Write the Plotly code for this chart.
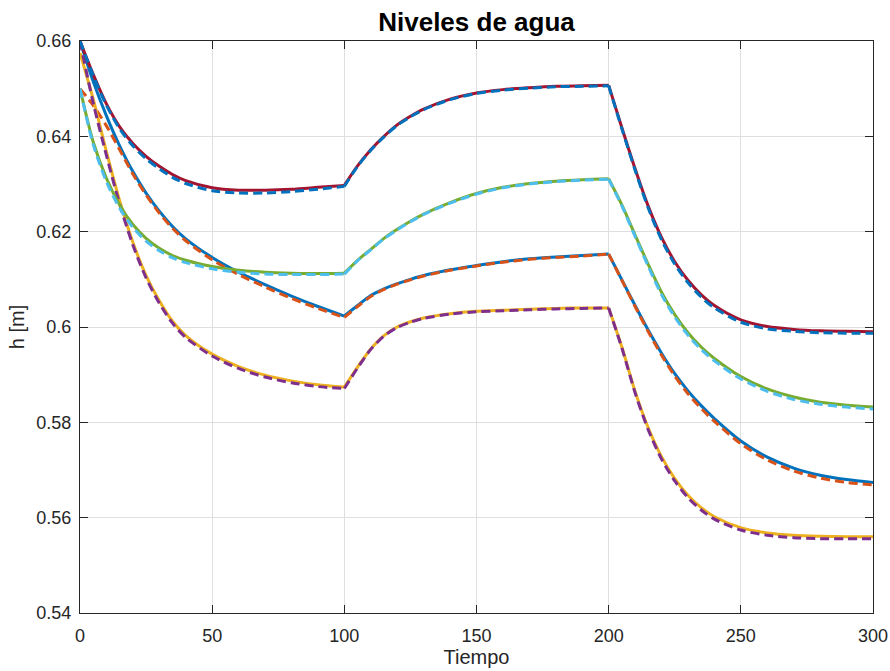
import plotly.graph_objects as go

# Time samples
tiempo = [0, 5, 10, 15, 20, 25, 30, 35, 40, 50, 60, 70, 80, 90, 100,
          105, 110, 115, 120, 125, 130, 140, 150, 160, 170, 180, 190, 200,
          205, 210, 215, 220, 225, 230, 235, 240, 250, 260, 270, 280, 290, 300]

# Pair C : blue solid / orange dashed
h_c_sol = [0.6600, 0.6515, 0.6443, 0.6380, 0.6326, 0.6281, 0.6243, 0.6211, 0.6185, 0.6146, 0.6115, 0.6089, 0.6065, 0.6043, 0.6023,
           0.6045, 0.6066, 0.6080, 0.6091, 0.6100, 0.6108, 0.6120, 0.6129, 0.6137, 0.6143, 0.6147, 0.6150, 0.6153,
           0.6099, 0.6045, 0.5993, 0.5945, 0.5902, 0.5866, 0.5835, 0.5808, 0.5761, 0.5727, 0.5704, 0.5689, 0.5680, 0.5674]
h_c_dash = [0.6500, 0.6465, 0.6422, 0.6372, 0.6321, 0.6277, 0.6239, 0.6207, 0.6181, 0.6141, 0.6110, 0.6084, 0.6060, 0.6039, 0.6020,
            0.6043, 0.6064, 0.6079, 0.6090, 0.6099, 0.6107, 0.6119, 0.6128, 0.6136, 0.6142, 0.6146, 0.6149, 0.6153,
            0.6098, 0.6043, 0.5990, 0.5941, 0.5897, 0.5860, 0.5829, 0.5802, 0.5755, 0.5721, 0.5698, 0.5683, 0.5674, 0.5669]

# Pair D : yellow solid / purple dashed
h_d_sol = [0.6575, 0.6478, 0.6368, 0.6265, 0.6178, 0.6108, 0.6055, 0.6012, 0.5982, 0.5943, 0.5917, 0.5899, 0.5887, 0.5879, 0.5874,
           0.5916, 0.5954, 0.5982, 0.6000, 0.6011, 0.6019, 0.6028, 0.6033, 0.6035, 0.6037, 0.6039, 0.6040, 0.6040,
           0.5958, 0.5865, 0.5788, 0.5728, 0.5682, 0.5647, 0.5621, 0.5602, 0.5579, 0.5568, 0.5563, 0.5561, 0.5560, 0.5560]
h_d_dash = [0.6600, 0.6470, 0.6360, 0.6258, 0.6172, 0.6103, 0.6050, 0.6008, 0.5978, 0.5939, 0.5913, 0.5895, 0.5883, 0.5875, 0.5871,
            0.5914, 0.5953, 0.5981, 0.5999, 0.6010, 0.6018, 0.6027, 0.6032, 0.6034, 0.6036, 0.6038, 0.6039, 0.6040,
            0.5956, 0.5862, 0.5784, 0.5723, 0.5677, 0.5642, 0.5616, 0.5597, 0.5574, 0.5563, 0.5558, 0.5556, 0.5556, 0.5556]

# Pair B : green solid / cyan dashed
h_b_sol = [0.6500, 0.6388, 0.6312, 0.6256, 0.6215, 0.6186, 0.6165, 0.6150, 0.6140, 0.6127, 0.6119, 0.6115, 0.6113, 0.6112, 0.6113,
           0.6140, 0.6163, 0.6186, 0.6205, 0.6222, 0.6237, 0.6261, 0.6280, 0.6293, 0.6301, 0.6306, 0.6309, 0.6311,
           0.6256, 0.6193, 0.6131, 0.6073, 0.6026, 0.5988, 0.5958, 0.5934, 0.5896, 0.5870, 0.5853, 0.5842, 0.5836, 0.5832]
h_b_dash = [0.6500, 0.6383, 0.6305, 0.6249, 0.6209, 0.6180, 0.6160, 0.6145, 0.6135, 0.6122, 0.6115, 0.6111, 0.6110, 0.6110, 0.6111,
            0.6139, 0.6162, 0.6185, 0.6204, 0.6221, 0.6236, 0.6260, 0.6279, 0.6292, 0.6300, 0.6305, 0.6308, 0.6310,
            0.6254, 0.6190, 0.6127, 0.6068, 0.6021, 0.5983, 0.5953, 0.5929, 0.5891, 0.5865, 0.5848, 0.5838, 0.5832, 0.5828]

# Pair A : red solid / blue dashed
h_a_sol = [0.6600, 0.6530, 0.6468, 0.6420, 0.6385, 0.6358, 0.6337, 0.6320, 0.6307, 0.6292, 0.6287, 0.6287, 0.6289, 0.6293, 0.6297,
           0.6338, 0.6372, 0.6400, 0.6424, 0.6442, 0.6457, 0.6478, 0.6491, 0.6498, 0.6502, 0.6505, 0.6506, 0.6507,
           0.6418, 0.6332, 0.6253, 0.6188, 0.6137, 0.6098, 0.6068, 0.6045, 0.6015, 0.6001, 0.5995, 0.5992, 0.5991, 0.5990]
h_a_dash = [0.6600, 0.6528, 0.6465, 0.6416, 0.6380, 0.6353, 0.6332, 0.6314, 0.6301, 0.6286, 0.6281, 0.6281, 0.6284, 0.6289, 0.6295,
            0.6337, 0.6371, 0.6399, 0.6423, 0.6441, 0.6456, 0.6477, 0.6490, 0.6497, 0.6501, 0.6504, 0.6505, 0.6506,
            0.6416, 0.6329, 0.6249, 0.6183, 0.6132, 0.6093, 0.6063, 0.6040, 0.6010, 0.5996, 0.5991, 0.5988, 0.5987, 0.5987]

# Input switching instants (curves have a corner there)
switch_times = [100, 200]

x_ticks = [0, 50, 100, 150, 200, 250, 300]
y_ticks = [0.54, 0.56, 0.58, 0.60, 0.62, 0.64, 0.66]
y_tick_labels = ["0.54", "0.56", "0.58", "0.6", "0.62", "0.64", "0.66"]

series = [
    (h_c_sol, "#0072BD", "solid"),
    (h_c_dash, "#D95319", "dash"),
    (h_d_sol, "#EDB120", "solid"),
    (h_d_dash, "#7E2F8E", "dash"),
    (h_b_sol, "#77AC30", "solid"),
    (h_b_dash, "#4DBEEE", "dash"),
    (h_a_sol, "#A2142F", "solid"),
    (h_a_dash, "#0072BD", "dash"),
]

# segment boundaries (indices) so that smoothing keeps the corners at the switches
cuts = [0] + [tiempo.index(s) for s in switch_times] + [len(tiempo) - 1]

fig = go.Figure()
for ys, col, sty in series:
    for a, b in zip(cuts[:-1], cuts[1:]):
        fig.add_trace(go.Scatter(
            x=tiempo[a:b + 1], y=ys[a:b + 1], mode="lines",
            line=dict(color=col, width=3, shape="spline", smoothing=0.8,
                      dash=("9px,5px" if sty == "dash" else "solid")),
            showlegend=False, hoverinfo="skip"))

axis_col = "#262626"
font_fam = "Liberation Sans, Arial, sans-serif"

fig.update_layout(
    width=890, height=671,
    margin=dict(l=80, r=17, t=41, b=58, autoexpand=False),
    paper_bgcolor="white", plot_bgcolor="white",
    font=dict(family=font_fam, color=axis_col, size=18),
    title=dict(text="<b>Niveles de agua</b>", x=0.5, xref="paper", xanchor="center",
               y=1 - 22 / 671, yref="container", yanchor="middle",
               font=dict(size=26, color="black", family=font_fam)),
)
fig.update_xaxes(
    range=[0, 300], tickvals=x_ticks, showgrid=True, gridcolor="#dfdfdf", gridwidth=1,
    showline=True, linecolor=axis_col, linewidth=1, mirror="ticks",
    ticks="inside", ticklen=8, tickwidth=1, tickcolor=axis_col,
    tickfont=dict(size=18, color=axis_col), zeroline=False,
    ticklabelstandoff=6,
    title=dict(text="Tiempo", font=dict(size=20, color=axis_col), standoff=4),
)
fig.update_yaxes(
    range=[0.54, 0.66], tickvals=y_ticks, ticktext=y_tick_labels,
    showgrid=True, gridcolor="#dfdfdf", gridwidth=1,
    showline=True, linecolor=axis_col, linewidth=1, mirror="ticks",
    ticks="inside", ticklen=8, tickwidth=1, tickcolor=axis_col,
    tickfont=dict(size=18, color=axis_col), zeroline=False,
    ticklabelstandoff=4,
    title=dict(text="h [m]", font=dict(size=20, color=axis_col), standoff=6),
)

fig.write_html("out.html")
